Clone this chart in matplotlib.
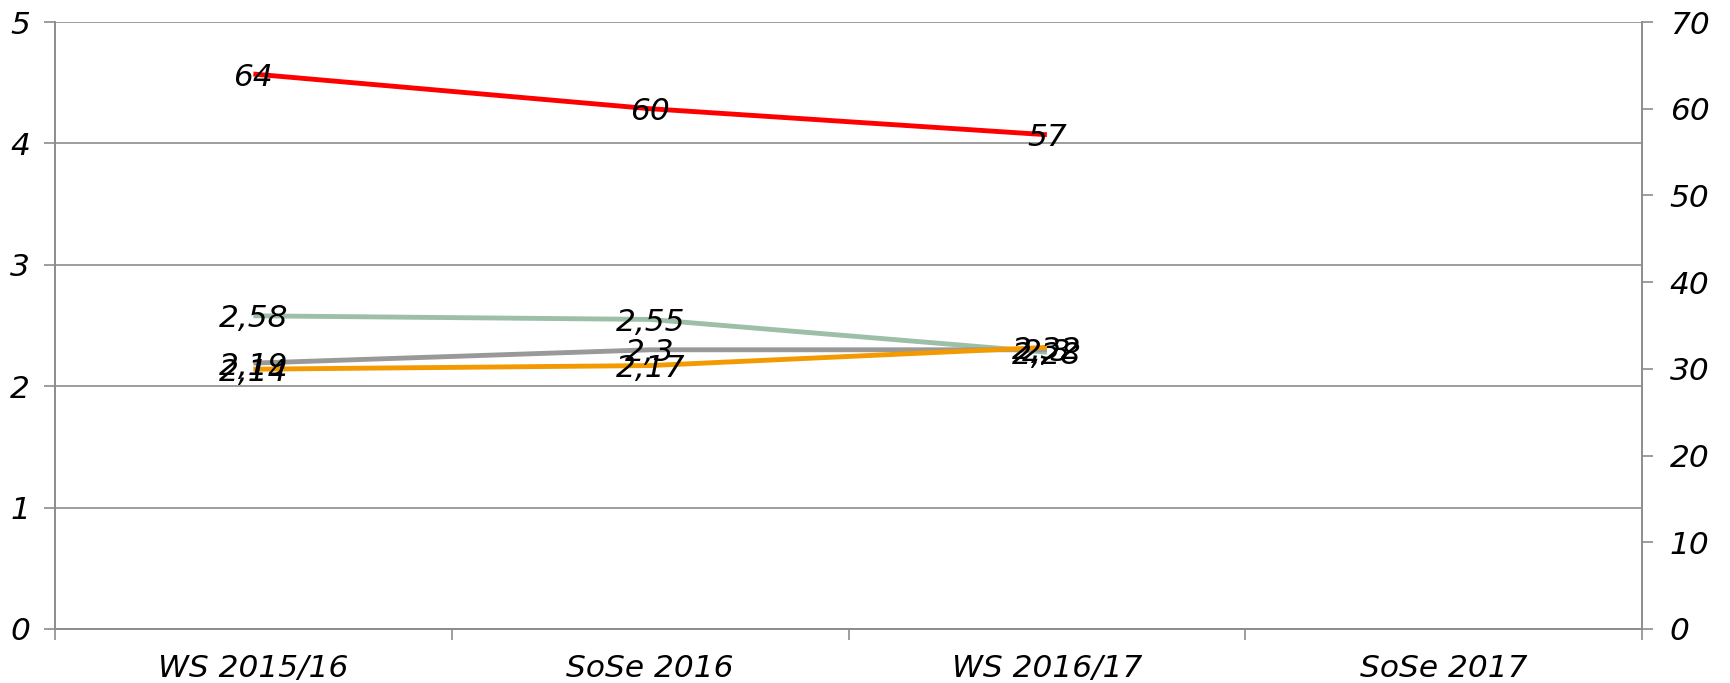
import numpy as np
import matplotlib.pyplot as plt

categories = ['WS 2015/16', 'SoSe 2016', 'WS 2016/17', 'SoSe 2017']

# left axis series (grade values)
green_vals = [2.58, 2.55, 2.28]
grey_vals = [2.19, 2.30, 2.30]
orange_vals = [2.14, 2.17, 2.32]
# right axis series
red_vals = [64, 60, 57]

green_labels = ['2,58', '2,55', '2,28']
grey_labels = ['2,19', '2,3', '2,3']
orange_labels = ['2,14', '2,17', '2,32']
red_labels = ['64', '60', '57']

plt.rcParams['font.family'] = 'DejaVu Sans'
plt.rcParams['font.style'] = 'italic'

fig = plt.figure(figsize=(17.31, 6.83), dpi=100)
ax = fig.add_axes([55/1731, 1 - 629/683, (1642-55)/1731, (629-22)/683])
ax2 = ax.twinx()

x = np.arange(len(green_vals)) + 0.5
axis_col = '#8c8c8c'
fs = 22.5

#left axis lines
ax.plot(x, green_vals, color='#9dbfa7', lw=3.5, solid_capstyle='butt', zorder=3)
ax.plot(x, grey_vals, color='#999999', lw=3.5, solid_capstyle='butt', zorder=3)
ax.plot(x, orange_vals, color='#f39a00', lw=3.5, solid_capstyle='butt', zorder=3)
for vals, labs in [(green_vals, green_labels), (grey_vals, grey_labels), (orange_vals, orange_labels)]:
  for xi, v, l in zip(x, vals, labs):
    ax.text(xi, v, l, ha='center', va='center_baseline', fontsize=fs, style='italic', color='black', zorder=5)

#right axis line
ax2.plot(x, red_vals, color='#ff0000', lw=3.5, solid_capstyle='butt', zorder=3)
for xi, v, l in zip(x, red_vals, red_labels):
  ax2.text(xi, v, l, ha='center', va='center_baseline', fontsize=fs, style='italic', color='black', zorder=5)

ax.set_xlim(0, len(categories))
ax.set_ylim(0, 5)
ax2.set_ylim(0, 70)
ax.set_yticks(range(0, 6))
ax2.set_yticks(range(0, 71, 10))

ax.set_xticks(range(len(categories) + 1))
ax.set_xticklabels([])
ax.set_xticks(np.arange(len(categories)) + 0.5, minor=True)
ax.set_xticklabels(categories, minor=True, fontsize=fs, style='italic')
ax.tick_params(axis='x', which='major', direction='out', length=8, color=axis_col, width=1.2)
ax.tick_params(axis='x', which='minor', length=0, pad=18)

ax.yaxis.grid(True, color=axis_col, lw=1.2)
ax.set_axisbelow(True)
ax.tick_params(axis='y', direction='out', length=8, color=axis_col, width=1.2, labelsize=fs, pad=10)
ax2.tick_params(axis='y', direction='out', length=8, color=axis_col, width=1.2, labelsize=fs, pad=12)
for t in ax.get_yticklabels() + ax2.get_yticklabels():
  t.set_style('italic')

for a in (ax, ax2):
  a.spines['top'].set_visible(False)
  for s in ('left', 'right', 'bottom'):
    a.spines[s].set_color(axis_col)
    a.spines[s].set_linewidth(1.2)

fig.savefig('out.png', dpi=100)
